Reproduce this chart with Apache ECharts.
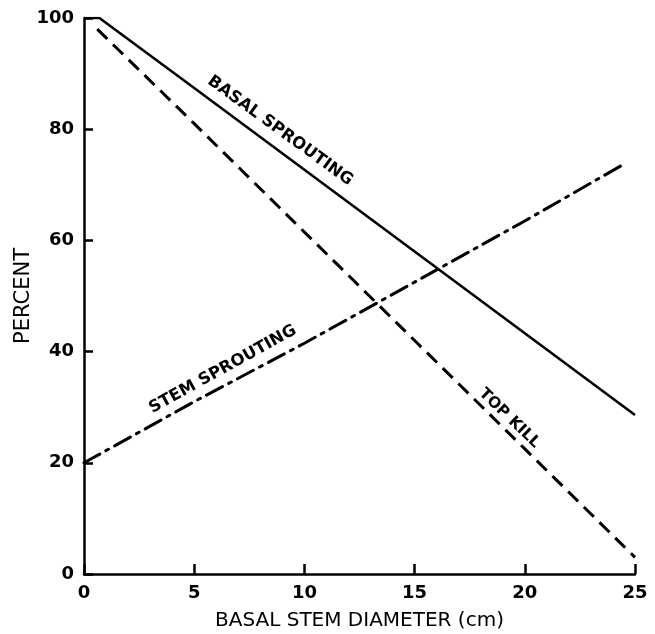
<!DOCTYPE html>
<html>
<head>
<meta charset="utf-8">
<script src="https://cdn.jsdelivr.net/npm/echarts@6/dist/echarts.min.js"></script>
<style>html,body{margin:0;padding:0;background:#fff;}#c{width:655px;height:634px;}</style>
</head>
<body>
<div id="c"></div>
<script>
// Data
var basalX = [0, 0.7, 5, 10, 15, 20, 25];
var basalY = [100, 100, 87.4, 72.7, 58, 43.3, 28.6];
var topKillX = [0.6, 5, 10, 15, 20, 25];
var topKillY = [98, 81, 61.5, 42, 22.5, 3];
var stemX = [0, 5, 10, 15, 20, 24.4];
var stemY = [20, 31, 41.5, 52.5, 63.5, 73.5];
var xTicks = [0, 5, 10, 15, 20, 25];
var yTicks = [0, 20, 40, 60, 80, 100];
var labelTexts = ['BASAL SPROUTING', 'TOP KILL', 'STEM SPROUTING'];
var labelAt = [[8.9, 79.7], [19.3, 28], [6.3, 36.8]];

function pairs(xs, ys){ return xs.map(function(x,i){ return [x, ys[i]]; }); }

var chart = echarts.init(document.getElementById('c'), null, {renderer:'canvas'});
function annot(i, rot, size){
  return {
    symbol:'circle', symbolSize:1, itemStyle:{color:'rgba(0,0,0,0)'},
    label:{show:true, position:'inside', rotate:rot, formatter:labelTexts[i],
      fontFamily:'DejaVu Sans', fontWeight:'bold', fontSize:size, color:'#000'},
    data:[{coord:labelAt[i]}]
  };
}
chart.setOption({
  animation:false,
  grid:{left:84, top:18, right:20, bottom:60, containLabel:false, outerBoundsMode:'none'},
  xAxis:{
    type:'value', min:0, max:25, interval:5,
    name:'BASAL STEM DIAMETER (cm)', nameLocation:'middle', nameGap:37, nameMoveOverlap:false,
    nameTextStyle:{fontFamily:'DejaVu Sans', fontSize:20, color:'#000'},
    axisLine:{lineStyle:{color:'#000', width:2.5}},
    axisTick:{inside:true, length:10, lineStyle:{color:'#000', width:2.5}},
    axisLabel:{fontFamily:'DejaVu Sans', fontWeight:'bold', fontSize:18, color:'#000', margin:10,
      formatter:function(v){ return xTicks.indexOf(v) >= 0 ? String(v) : ''; }},
    splitLine:{show:false}
  },
  yAxis:{
    type:'value', min:0, max:100, interval:20,
    name:'PERCENT', nameLocation:'middle', nameGap:50, nameRotate:90, nameMoveOverlap:false,
    nameTextStyle:{fontFamily:'DejaVu Sans', fontSize:21, color:'#000'},
    axisLine:{show:true, lineStyle:{color:'#000', width:2.5}},
    axisTick:{show:true, inside:true, length:9, lineStyle:{color:'#000', width:2.5}},
    axisLabel:{fontFamily:'DejaVu Sans', fontWeight:'bold', fontSize:18, color:'#000', margin:10,
      formatter:function(v){ return yTicks.indexOf(v) >= 0 ? String(v) : ''; }},
    splitLine:{show:false}
  },
  series:[
    {type:'line', name:'Basal sprouting', data:pairs(basalX, basalY), showSymbol:false, symbol:'none',
     lineStyle:{color:'#000', width:2.6, type:'solid'}, markPoint:annot(0, -36, 16.5)},
    {type:'line', name:'Top kill', data:pairs(topKillX, topKillY), showSymbol:false, symbol:'none',
     lineStyle:{color:'#000', width:3, type:[14, 8]}, markPoint:annot(1, -44, 15.5)},
    {type:'line', name:'Stem sprouting', data:pairs(stemX, stemY), showSymbol:false, symbol:'none',
     lineStyle:{color:'#000', width:3, type:[18, 7, 3, 7], cap:'round'}, markPoint:annot(2, 29, 16.5)}
  ]
});
</script>
</body>
</html>
